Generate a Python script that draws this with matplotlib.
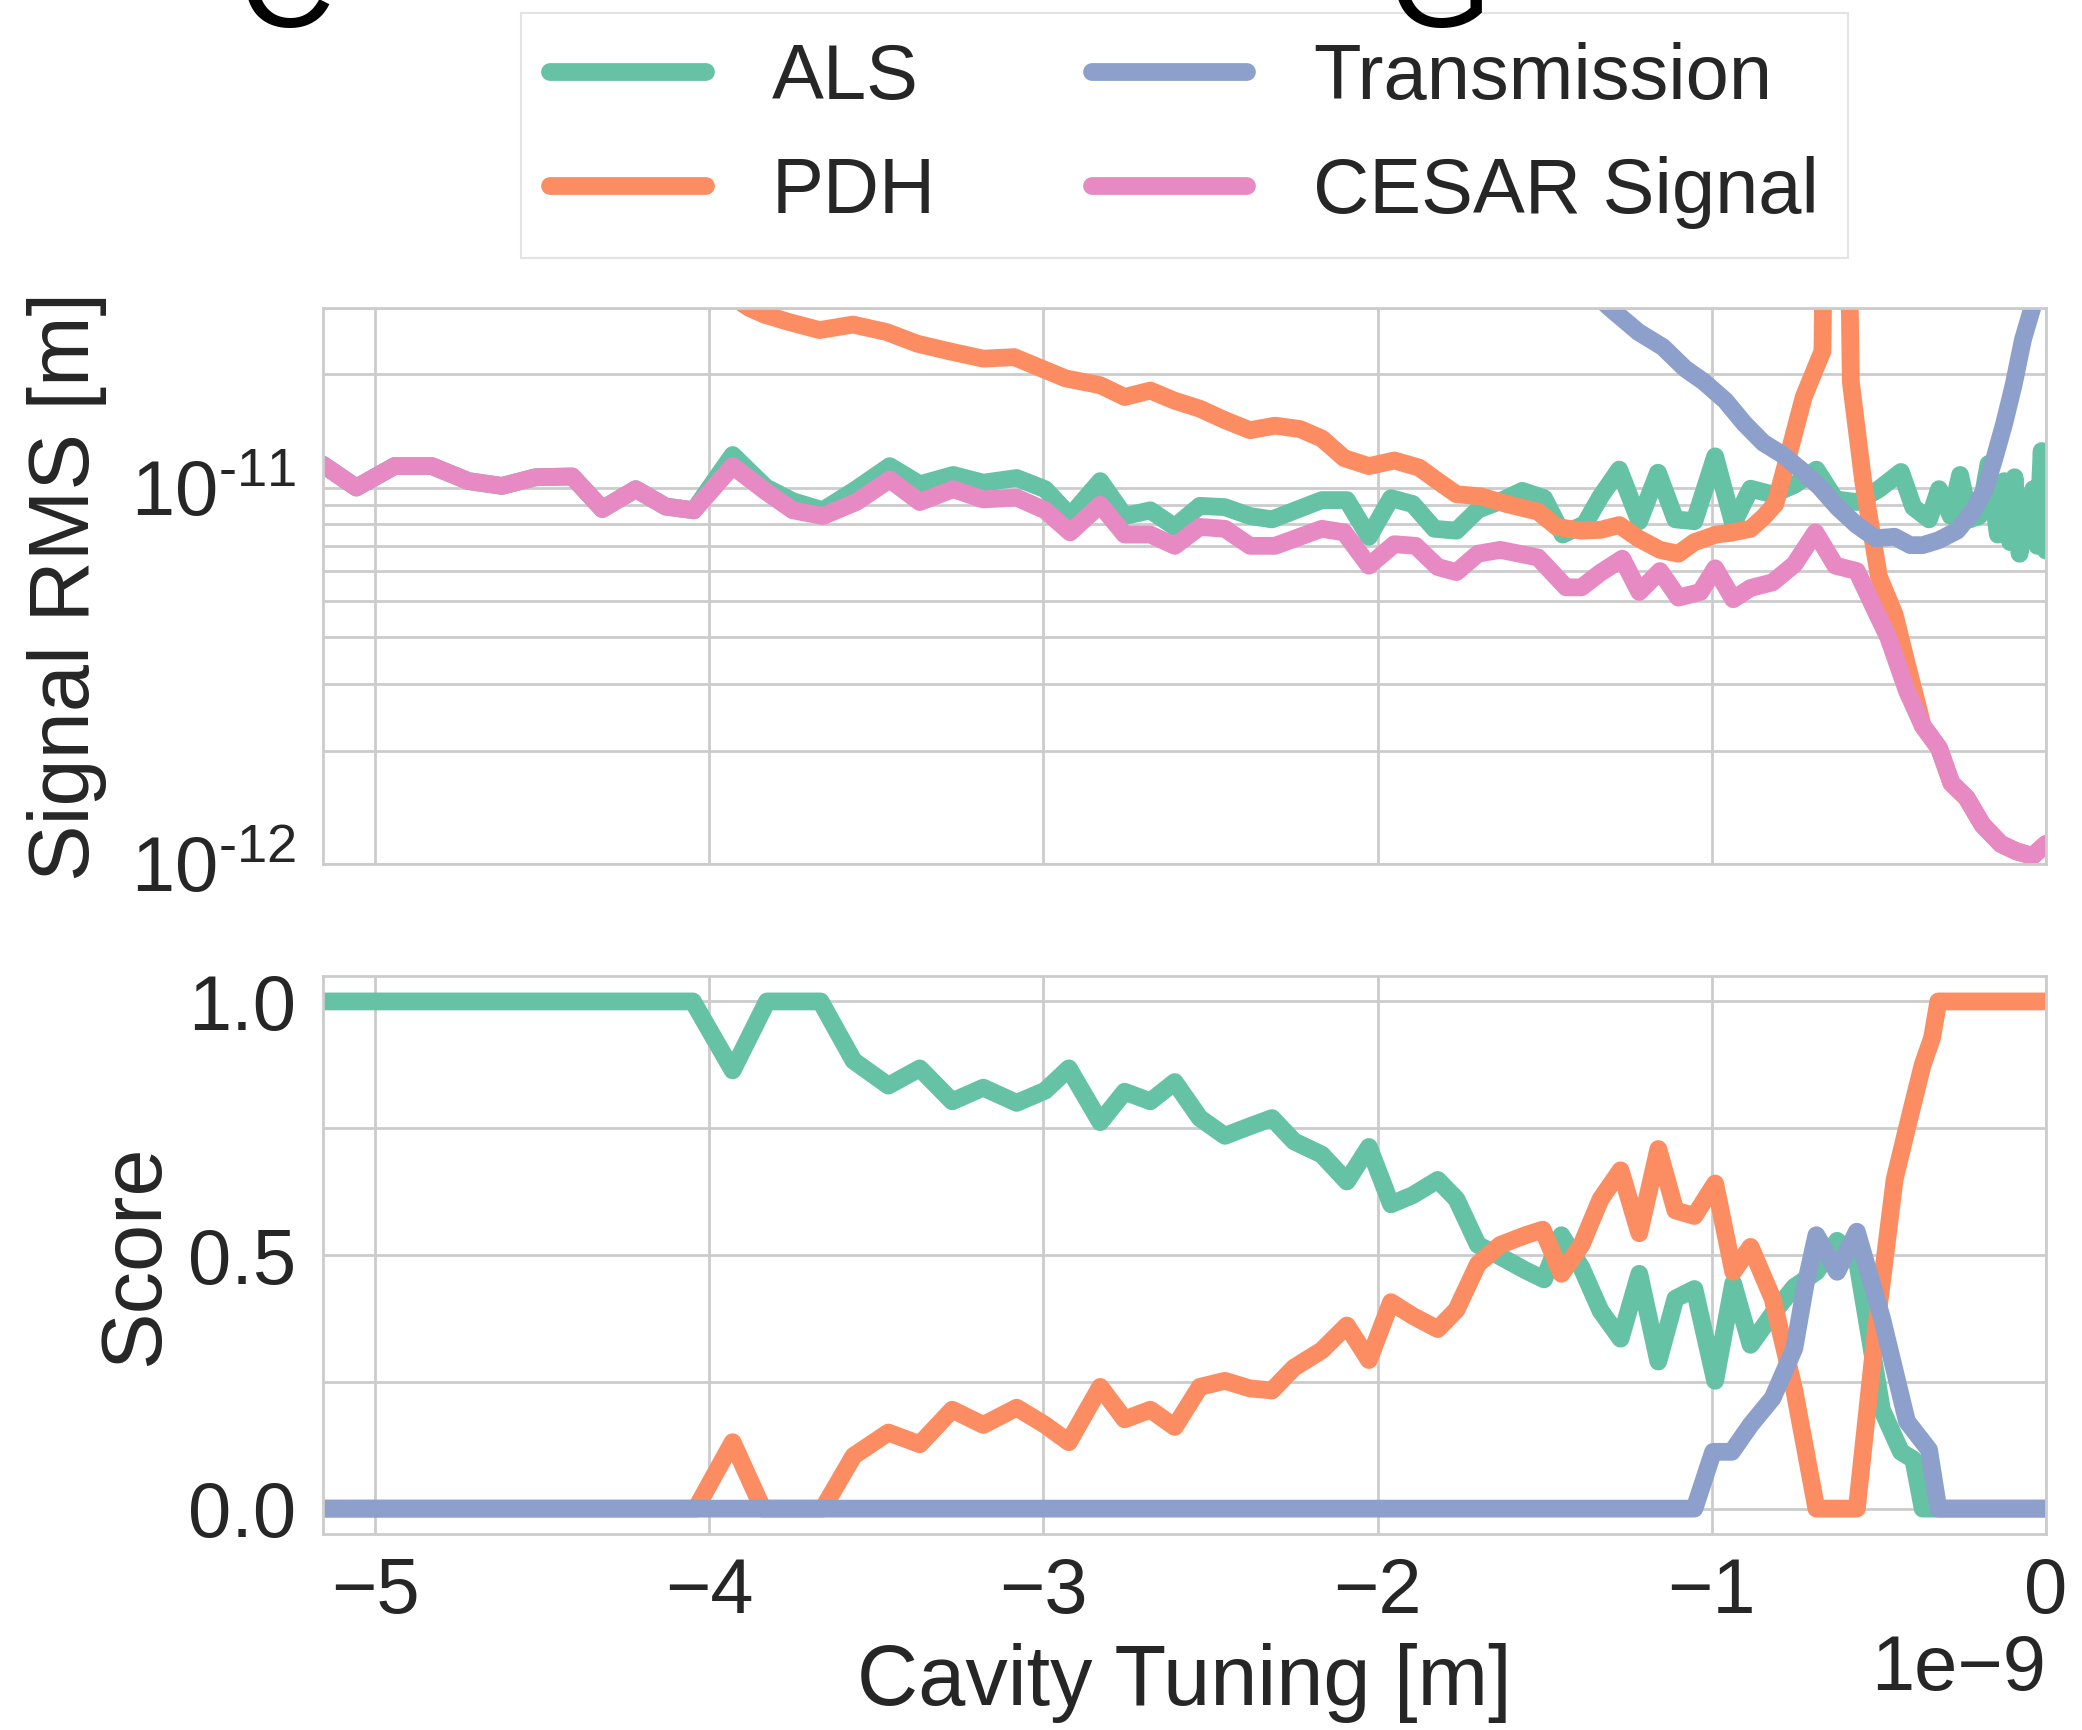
import numpy as np
import matplotlib
matplotlib.use("Agg")
import matplotlib.pyplot as plt
import seaborn as sns
from matplotlib.ticker import MultipleLocator, FixedLocator, FuncFormatter, LogLocator

sns.set_style("whitegrid")
plt.rcParams['font.family'] = ['Liberation Sans', 'DejaVu Sans']
plt.rcParams['mathtext.fontset'] = 'custom'
plt.rcParams['mathtext.rm'] = 'Liberation Sans'
plt.rcParams['mathtext.it'] = 'Liberation Sans'
plt.rcParams['mathtext.bf'] = 'Liberation Sans'

colors = sns.color_palette("Set2", 4)
labels = ['ALS', 'PDH', 'Transmission', 'CESAR Signal']

# ---- top panel: signal RMS (x in nm, y in 1e-11 m) ----
cesar_x = [-5.156, -5.056, -4.942, -4.83, -4.72, -4.62, -4.52, -4.41, -4.32, -4.22,
           -4.13, -4.046, -3.93, -3.83, -3.75, -3.66, -3.56, -3.46, -3.37, -3.27,
           -3.18, -3.08, -2.995, -2.92, -2.83, -2.757, -2.68, -2.607, -2.532, -2.457,
           -2.382, -2.307, -2.167, -2.10, -2.026, -1.95, -1.886, -1.82, -1.764, -1.70,
           -1.633, -1.52, -1.436, -1.39, -1.333, -1.268, -1.217, -1.155, -1.10, -1.034,
           -0.99, -0.936, -0.884, -0.818, -0.753, -0.69, -0.63, -0.566, -0.51, -0.472,
           -0.416, -0.369, -0.32, -0.283, -0.238, -0.19, -0.135, -0.088, -0.04, 0.0]
cesar_rms = [1.15, 1.0, 1.14, 1.14, 1.04, 1.01, 1.065, 1.07, 0.877, 0.99,
             0.89, 0.87, 1.14, 0.975, 0.87, 0.84, 0.915, 1.05, 0.915, 0.99,
             0.93, 0.94, 0.87, 0.76, 0.90, 0.75, 0.75, 0.70, 0.786, 0.777,
             0.70, 0.70, 0.777, 0.76, 0.62, 0.707, 0.70, 0.615, 0.596, 0.667,
             0.683, 0.652, 0.543, 0.543, 0.594, 0.647, 0.528, 0.60, 0.51, 0.528,
             0.61, 0.505, 0.541, 0.56, 0.625, 0.76, 0.62, 0.60, 0.47, 0.40,
             0.288, 0.233, 0.203, 0.164, 0.15, 0.127, 0.113, 0.108, 0.105, 0.113]

als_x = [-5.156, -5.056, -4.942, -4.83, -4.72, -4.62, -4.52, -4.41, -4.32, -4.22,
         -4.13, -4.046, -3.93, -3.83, -3.75, -3.66, -3.56, -3.46, -3.37, -3.27,
         -3.18, -3.08, -2.995, -2.92, -2.83, -2.757, -2.68, -2.607, -2.532, -2.457,
         -2.382, -2.316, -2.167, -2.092, -2.026, -1.96, -1.895, -1.83, -1.764, -1.70,
         -1.633, -1.567, -1.502, -1.446, -1.38, -1.333, -1.277, -1.217, -1.161, -1.109,
         -1.052, -0.99, -0.936, -0.884, -0.818, -0.753, -0.687, -0.63, -0.566, -0.50,
         -0.434, -0.397, -0.35, -0.32, -0.285, -0.257, -0.228, -0.20, -0.172, -0.144,
         -0.125, -0.107, -0.094, -0.079, -0.064, -0.051, -0.038, -0.026, -0.013, 0.0]
als_rms = [1.15, 1.0, 1.14, 1.14, 1.04, 1.01, 1.065, 1.07, 0.877, 0.99,
           0.89, 0.87, 1.22, 1.0, 0.92, 0.87, 0.99, 1.14, 1.02, 1.08,
           1.03, 1.06, 0.99, 0.84, 1.04, 0.84, 0.87, 0.786, 0.894, 0.887,
           0.84, 0.823, 0.926, 0.926, 0.74, 0.937, 0.904, 0.777, 0.768, 0.873,
           0.92, 0.98, 0.937, 0.75, 0.80, 0.946, 1.116, 0.814, 1.095, 0.823,
           0.814, 1.21, 0.80, 0.993, 0.959, 1.016, 1.116, 0.93, 0.915, 0.99,
           1.10, 0.887, 0.823, 0.99, 0.84, 1.08, 0.823, 0.84, 1.155, 0.75,
           1.04, 0.716, 1.065, 0.667, 0.926, 0.73, 0.99, 0.70, 1.25, 0.68]

pdh_x = [-3.95, -3.88, -3.835, -3.76, -3.67, -3.57, -3.47, -3.377, -3.28, -3.18,
         -3.087, -2.934, -2.83, -2.757, -2.68, -2.607, -2.532, -2.457, -2.382, -2.307,
         -2.232, -2.167, -2.10, -2.026, -1.95, -1.876, -1.82, -1.764, -1.69, -1.614,
         -1.52, -1.464, -1.39, -1.333, -1.277, -1.22, -1.155, -1.10, -1.052, -0.987,
         -0.94, -0.884, -0.846, -0.81, -0.77, -0.725, -0.669, -0.655, -0.60, -0.584,
         -0.547, -0.50, -0.453, -0.416, -0.369, -0.32, -0.283, -0.238, -0.19, -0.135,
         -0.088, -0.04, 0.0]
pdh_rms = [3.3, 3.0, 2.88, 2.75, 2.62, 2.71, 2.59, 2.41, 2.30, 2.20,
           2.22, 1.95, 1.87, 1.74, 1.81, 1.70, 1.62, 1.51, 1.42, 1.46,
           1.43, 1.35, 1.197, 1.14, 1.18, 1.13, 1.04, 0.96, 0.947, 0.904,
           0.863, 0.786, 0.768, 0.772, 0.795, 0.733, 0.683, 0.667, 0.716, 0.75,
           0.759, 0.777, 0.833, 0.904, 1.225, 1.74, 2.30, 20.0, 20.0, 1.91,
           1.04, 0.58, 0.46, 0.339, 0.233, 0.203, 0.164, 0.15, 0.127, 0.113,
           0.108, 0.105, 0.113]

trans_x = [-1.40, -1.305, -1.22, -1.146, -1.08, -1.024, -0.959, -0.903, -0.846, -0.79,
           -0.734, -0.678, -0.622, -0.566, -0.51, -0.453, -0.406, -0.369, -0.322, -0.266,
           -0.219, -0.182, -0.154, -0.125, -0.097, -0.069, -0.041, -0.02]
trans_rms = [3.6, 3.0, 2.59, 2.36, 2.07, 1.91, 1.70, 1.48, 1.315, 1.225,
             1.116, 1.005, 0.883, 0.795, 0.733, 0.74, 0.703, 0.703, 0.724, 0.768,
             0.863, 0.993, 1.197, 1.48, 1.87, 2.47, 3.0, 4.0]

# ---- bottom panel: scores ----
als_score_x = [-5.156, -4.049, -3.93, -3.827, -3.667, -3.568, -3.464, -3.37, -3.273, -3.18,
               -3.08, -2.995, -2.924, -2.83, -2.757, -2.68, -2.607, -2.532, -2.457, -2.382,
               -2.316, -2.25, -2.167, -2.092, -2.026, -1.96, -1.895, -1.82, -1.764, -1.70,
               -1.633, -1.558, -1.502, -1.45, -1.39, -1.333, -1.273, -1.217, -1.16, -1.109,
               -1.052, -0.99, -0.936, -0.884, -0.818, -0.753, -0.687, -0.625, -0.566, -0.491,
               -0.434, -0.397, -0.369, 0.0]
als_score = [1.0, 1.0, 0.864, 1.0, 1.0, 0.883, 0.834, 0.868, 0.803, 0.83,
             0.80, 0.824, 0.868, 0.762, 0.822, 0.803, 0.841, 0.77, 0.735, 0.754,
             0.77, 0.724, 0.698, 0.645, 0.713, 0.60, 0.618, 0.648, 0.61, 0.52,
             0.497, 0.47, 0.452, 0.539, 0.475, 0.39, 0.335, 0.463, 0.29, 0.414,
             0.433, 0.252, 0.444, 0.323, 0.384, 0.437, 0.467, 0.528, 0.49, 0.195,
             0.112, 0.097, 0.0, 0.0]

pdh_score_x = [-5.156, -4.04, -3.93, -3.84, -3.66, -3.568, -3.464, -3.37, -3.273, -3.18,
               -3.08, -2.995, -2.924, -2.83, -2.757, -2.68, -2.607, -2.532, -2.457, -2.382,
               -2.316, -2.25, -2.167, -2.092, -2.026, -1.96, -1.895, -1.82, -1.764, -1.70,
               -1.633, -1.558, -1.506, -1.45, -1.39, -1.333, -1.273, -1.217, -1.16, -1.109,
               -1.052, -0.99, -0.936, -0.884, -0.818, -0.753, -0.687, -0.566, -0.51, -0.453,
               -0.406, -0.369, -0.341, -0.322, 0.0]
pdh_score = [0.0, 0.0, 0.131, 0.0, 0.0, 0.104, 0.15, 0.127, 0.195, 0.165,
             0.199, 0.165, 0.131, 0.24, 0.176, 0.195, 0.161, 0.24, 0.252, 0.237,
             0.233, 0.278, 0.312, 0.361, 0.293, 0.407, 0.38, 0.354, 0.392, 0.482,
             0.52, 0.539, 0.55, 0.463, 0.52, 0.61, 0.667, 0.543, 0.709, 0.588,
             0.577, 0.641, 0.467, 0.516, 0.414, 0.233, 0.0, 0.0, 0.346, 0.649,
             0.777, 0.875, 0.928, 1.0, 1.0]

trans_score_x = [-5.156, -1.052, -0.996, -0.94, -0.884, -0.818, -0.753, -0.719, -0.687, -0.625,
                 -0.566, -0.491, -0.416, -0.35, -0.322, 0.0]
trans_score = [0.0, 0.0, 0.112, 0.112, 0.165, 0.218, 0.316, 0.444, 0.539, 0.467,
               0.546, 0.376, 0.172, 0.116, 0.0, 0.0]

rms_series = [(als_x, als_rms), (pdh_x, pdh_rms), (trans_x, trans_rms), (cesar_x, cesar_rms)]
score_series = [(als_score_x, als_score), (pdh_score_x, pdh_score), (trans_score_x, trans_score)]

text_color = '#262626'
grid_color = '#cccccc'
lw = 12.8
tick_fs = 56
label_fs = 61
legend_fs = 56

fig = plt.figure(figsize=(20.82, 17.30), dpi=100)
ax1 = fig.add_axes([0.1551, 0.5006, 0.8276, 0.3214])
ax2 = fig.add_axes([0.1551, 0.1133, 0.8276, 0.3225], sharex=ax1)

handles = []
for (x, y), c, lab in zip(rms_series, colors, labels):
    h, = ax1.plot(np.array(x) * 1e-9, np.array(y) * 1e-11, color=c, lw=lw, label=lab,
                  solid_capstyle='round')
    handles.append(h)
for (x, y), c in zip(score_series, colors):
    ax2.plot(np.array(x) * 1e-9, y, color=c, lw=lw, solid_capstyle='round')

ax1.set_yscale('log')
ax1.set_ylim(1e-12, 3e-11)
ax1.set_xlim(-5.156e-9, 0)
ax1.yaxis.set_major_locator(FixedLocator([1e-12, 1e-11]))
ax1.yaxis.set_minor_locator(LogLocator(base=10, subs=np.arange(2, 10)))
ax1.yaxis.set_minor_formatter(plt.NullFormatter())
ax1.yaxis.set_major_formatter(FuncFormatter(
    lambda v, p: r'$\mathregular{10^{\text{-}%d}}$' % round(-np.log10(v))))
ax1.grid(True, which='both', axis='y', color=grid_color, lw=2)
ax1.grid(True, which='major', axis='x', color=grid_color, lw=2)
plt.setp(ax1.get_xticklabels(), visible=False)
ax1.xaxis.get_offset_text().set_visible(False)

ax2.set_ylim(-0.05, 1.05)
ax2.yaxis.set_major_locator(MultipleLocator(0.5))
ax2.yaxis.set_minor_locator(MultipleLocator(0.25))
ax2.xaxis.set_major_locator(FixedLocator([-5e-9, -4e-9, -3e-9, -2e-9, -1e-9, 0]))
ax2.grid(True, which='both', axis='y', color=grid_color, lw=2)
ax2.grid(True, which='major', axis='x', color=grid_color, lw=2)

for ax in (ax1, ax2):
    ax.tick_params(which='both', length=0, labelsize=tick_fs, labelcolor=text_color)
    ax.tick_params(axis='x', pad=16)
    ax.tick_params(axis='y', pad=19)
    for s in ax.spines.values():
        s.set_color(grid_color)
        s.set_linewidth(2)
    ax.set_axisbelow(True)

ax2.xaxis.get_offset_text().set_fontsize(tick_fs)
ax2.xaxis.get_offset_text().set_color(text_color)

ax1.set_ylabel('Signal RMS [m]', fontsize=label_fs, color=text_color)
ax2.set_ylabel('Score', fontsize=label_fs, color=text_color)
ax2.set_xlabel('Cavity Tuning [m]', fontsize=label_fs, color=text_color, labelpad=10)
ax1.yaxis.set_label_coords(-0.1254, 0.5)
ax2.yaxis.set_label_coords(-0.0853, 0.5)

leg = fig.legend(handles=handles, labels=labels, loc='upper center', ncol=2,
                 bbox_to_anchor=(0.569, 0.9925), fontsize=legend_fs, frameon=True,
                 fancybox=False, handlelength=2.0, handletextpad=0.85, columnspacing=2.0,
                 labelspacing=0.53, borderpad=0.37, borderaxespad=0)
leg.get_frame().set_edgecolor('#dddddd')
leg.get_frame().set_linewidth(1.5)
for t in leg.get_texts():
    t.set_color(text_color)

# bottoms of large glyphs cut off at the top edge, drawn over the legend frame
fig.text(238 / 2082, 1 - 27 / 1730, 'C', fontsize=95, color='black', ha='left',
         va='baseline', zorder=10)
fig.text(1388 / 2082, 1 - 27 / 1730, 'G', fontsize=95, color='black', ha='left',
         va='baseline', zorder=10)

fig.savefig('out.png', dpi=100)
